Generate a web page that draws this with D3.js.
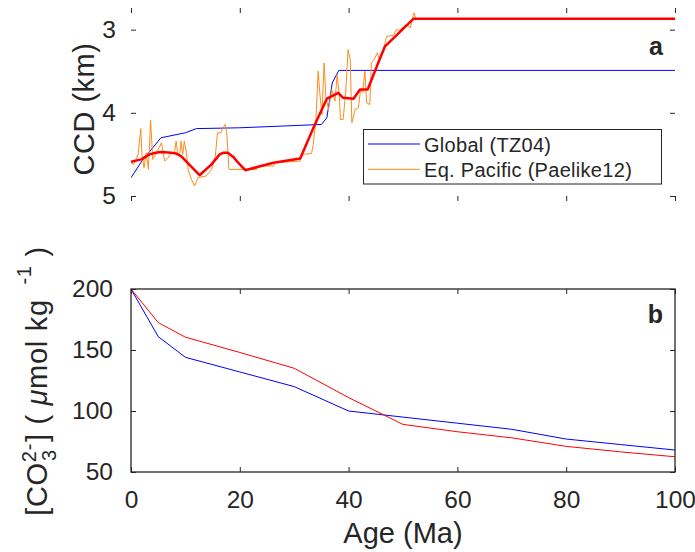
<!DOCTYPE html>
<html>
<head>
<meta charset="utf-8">
<script src="https://cdn.jsdelivr.net/npm/d3@7"></script>
<style>
  body { margin: 0; background: #fff; }
  text { font-family: "Liberation Sans", Arial, sans-serif; fill: #262626; }
</style>
</head>
<body>
<div id="chart"></div>
<script>
// panel a : CCD (km)
var globalAge = [0, 2, 5.5, 10, 12, 20, 35, 36, 37, 38.2, 100];
var globalCCD = [4.78, 4.58, 4.30, 4.24, 4.19, 4.18, 4.14, 4.06, 3.64, 3.49, 3.49];

var pacAge = [0, 0.5, 1.3, 1.8, 2.0, 2.4, 2.8, 3.2, 3.6, 4.0, 4.7, 5.6, 5.9, 6.2, 6.8, 7.4, 8.0, 8.3, 8.6, 9.0,
  9.2, 9.5, 9.8, 10.2, 10.5, 11.1, 11.7, 12.3, 13.8, 14.8, 15.5, 15.9, 16.5, 16.9, 17.3, 17.6, 18.0, 23.1, 23.4, 26.2,
  26.5, 31.1, 31.4, 33.2, 33.5, 34.0, 34.4, 34.7, 35.1, 35.5, 35.8, 36.3, 36.9, 37.5, 37.9, 38.3, 38.5, 39.0, 39.5, 39.9,
  40.3, 40.6, 40.9, 41.2, 41.8, 42.2, 42.6, 43.0, 43.3, 43.9, 44.2, 44.7, 45.3, 45.7, 46.4, 47.0, 48.2, 48.8, 49.4, 50.1,
  50.7, 51.3, 51.8, 52.0, 52.3, 100];
var pacCCD = [4.60, 4.62, 4.50, 4.19, 4.50, 4.66, 4.48, 4.68, 4.09, 4.56, 4.48, 4.36, 4.48, 4.58, 4.54, 4.48, 4.48, 4.34, 4.50, 4.48,
  4.34, 4.50, 4.34, 4.48, 4.68, 4.80, 4.88, 4.78, 4.76, 4.68, 4.52, 4.24, 4.24, 4.18, 4.14, 4.24, 4.68, 4.68, 4.64, 4.64,
  4.60, 4.58, 4.50, 4.49, 4.38, 4.08, 3.50, 3.76, 4.02, 3.40, 3.80, 3.96, 3.72, 3.86, 3.54, 3.80, 4.08, 4.08, 3.72, 3.24,
  3.36, 4.12, 4.04, 3.96, 3.94, 3.72, 3.76, 3.50, 3.88, 3.90, 3.40, 3.36, 3.28, 3.36, 3.24, 3.08, 3.07, 3.00, 3.01, 2.96,
  2.94, 2.98, 2.87, 2.76, 2.87, 2.87];

var pacSmoothAge = [0, 1.9, 3.4, 4.5, 5.6, 7.4, 8.3, 9.2, 12.6, 14.8, 16.3, 17.0, 17.8, 18.8, 19.7, 21, 26.2, 31.1, 33.8, 36,
  38.1, 39, 40.9, 42.1, 43.5, 45.8, 46.7, 51.9, 100];
var pacSmoothCCD = [4.59, 4.56, 4.50, 4.48, 4.47, 4.48, 4.49, 4.52, 4.75, 4.62, 4.50, 4.48, 4.48, 4.53, 4.60, 4.69, 4.60, 4.55, 4.14, 3.83,
  3.76, 3.82, 3.83, 3.72, 3.72, 3.34, 3.20, 2.87, 2.87];

// panel b : [CO3 2-]
var co3Age = [0, 5, 10, 20, 30, 40, 50, 60, 70, 80, 90, 100];
var co3Global = [200, 161, 144, 132, 120, 100, 95, 90, 85, 77, 72.5, 68];
var co3Pacific = [200, 172.5, 160.5, 148, 135, 111, 89, 83, 78, 71, 66.5, 62.5];

var ageTicks = [0, 20, 40, 60, 80, 100];
var ccdTicks = [3, 4, 5];
var co3Ticks = [50, 100, 150, 200];

var width = 695, height = 552;
var left = 131, right = 675;
var tickFont = 24.5, labelFont = 29;

var svg = d3.select("#chart").append("svg")
  .attr("width", width)
  .attr("height", height);

var x = d3.scaleLinear().domain([0, 100]).range([left, right]);
var yTop = d3.scaleLinear().domain([2.8, 5]).range([13, 196]);
var yBot = d3.scaleLinear().domain([50, 200]).range([472, 289]);

var toPoints = function(xs, ys) {
  return xs.map(function(d, i) { return [d, ys[i]]; });
};

// draws box, inner ticks on all four sides
var drawFrame = function(y, yTicks, pad, showX) {
  var r = y.range();
  var g = svg.append("g");

  g.append("g")
    .attr("transform", "translate(" + left + ",0)")
    .call(d3.axisLeft(y).tickValues(yTicks).tickSizeInner(-5).tickSizeOuter(0).tickPadding(pad).tickFormat(d3.format("d")))
    .call(function(a) { a.select(".domain").remove(); })
    .selectAll("text").attr("font-size", tickFont).attr("fill", "#262626");

  g.append("g")
    .attr("transform", "translate(" + right + ",0)")
    .call(d3.axisRight(y).tickValues(yTicks).tickSizeInner(-5).tickSizeOuter(0).tickFormat(""))
    .call(function(a) { a.select(".domain").remove(); });

  g.append("g")
    .attr("transform", "translate(0," + r[1] + ")")
    .call(d3.axisTop(x).tickValues(ageTicks).tickSizeInner(-5).tickSizeOuter(0).tickFormat(""))
    .call(function(a) { a.select(".domain").remove(); });

  var bx = g.append("g")
    .attr("transform", "translate(0," + r[0] + ")")
    .call(d3.axisBottom(x).tickValues(ageTicks).tickSizeInner(-5).tickSizeOuter(0).tickPadding(19)
      .tickFormat(showX ? d3.format("d") : ""))
    .call(function(a) { a.select(".domain").remove(); });
  bx.selectAll("text").attr("font-size", tickFont).attr("fill", "#262626");

  g.selectAll(".tick line").attr("stroke", "#262626");

  g.append("rect")
    .attr("x", left)
    .attr("y", r[1])
    .attr("width", right - left)
    .attr("height", r[0] - r[1])
    .attr("fill", "none")
    .attr("stroke", "#262626")
    .attr("stroke-width", 1.3);
};

// ---- panel a ----
svg.append("clipPath").attr("id", "clipA")
  .append("rect")
  .attr("x", left).attr("y", 13)
  .attr("width", right - left).attr("height", 183);

var lineA = d3.line()
  .x(function(d) { return x(d[0]); })
  .y(function(d) { return yTop(d[1]); });

var plotA = svg.append("g").attr("clip-path", "url(#clipA)");

plotA.append("path")
  .datum(toPoints(globalAge, globalCCD))
  .attr("d", lineA)
  .attr("fill", "none")
  .attr("stroke", "#0000ff")
  .attr("stroke-width", 1);

plotA.append("path")
  .datum(toPoints(pacAge, pacCCD))
  .attr("d", lineA)
  .attr("fill", "none")
  .attr("stroke", "#ff8c1a")
  .attr("stroke-width", 1);

plotA.append("path")
  .datum(toPoints(pacSmoothAge, pacSmoothCCD))
  .attr("d", lineA)
  .attr("fill", "none")
  .attr("stroke", "#ff0000")
  .attr("stroke-width", 2.5)
  .attr("stroke-linejoin", "round");

drawFrame(yTop, ccdTicks, 15, false);

svg.append("text")
  .text("CCD (km)")
  .attr("transform", "translate(94,109) rotate(-90)")
  .attr("text-anchor", "middle")
  .attr("font-size", labelFont)
  .attr("letter-spacing", 0.5);

svg.append("text")
  .text("a")
  .attr("x", 663)
  .attr("y", 55)
  .attr("text-anchor", "end")
  .attr("font-size", 25)
  .attr("font-weight", "bold")
  .attr("fill", "#000");

// legend
var legend = svg.append("g");
legend.append("rect")
  .attr("x", 363.5).attr("y", 129.5)
  .attr("width", 298).attr("height", 54.5)
  .attr("fill", "#fff")
  .attr("stroke", "#262626")
  .attr("stroke-width", 1);

var legendItems = [
  { label: "Global (TZ04)", color: "#0000ff" },
  { label: "Eq. Pacific (Paelike12)", color: "#ff8c1a" }
];

legend.selectAll(".item")
  .data(legendItems)
  .enter()
  .append("line")
  .attr("x1", 368).attr("x2", 420)
  .attr("y1", function(d, i) { return 144 + i * 25.3; })
  .attr("y2", function(d, i) { return 144 + i * 25.3; })
  .attr("stroke", function(d) { return d.color; })
  .attr("stroke-width", 1);

legend.selectAll(".lbl")
  .data(legendItems)
  .enter()
  .append("text")
  .text(function(d) { return d.label; })
  .attr("x", 424)
  .attr("y", function(d, i) { return 151.5 + i * 25.3; })
  .attr("font-size", 20)
  .attr("letter-spacing", 0.3)
  .attr("fill", "#000");

// ---- panel b ----
var lineB = d3.line()
  .x(function(d) { return x(d[0]); })
  .y(function(d) { return yBot(d[1]); });

svg.append("path")
  .datum(toPoints(co3Age, co3Global))
  .attr("d", lineB)
  .attr("fill", "none")
  .attr("stroke", "#0000ff")
  .attr("stroke-width", 1);

svg.append("path")
  .datum(toPoints(co3Age, co3Pacific))
  .attr("d", lineB)
  .attr("fill", "none")
  .attr("stroke", "#ff0000")
  .attr("stroke-width", 1);

drawFrame(yBot, co3Ticks, 18, true);

svg.append("text")
  .text("b")
  .attr("x", 663)
  .attr("y", 323)
  .attr("text-anchor", "end")
  .attr("font-size", 25)
  .attr("font-weight", "bold")
  .attr("fill", "#000");

svg.append("text")
  .text("Age (Ma)")
  .attr("x", (left + right) / 2)
  .attr("y", 543)
  .attr("text-anchor", "middle")
  .attr("font-size", labelFont);

var ylab = svg.append("text")
  .attr("transform", "translate(47,381) rotate(-90)")
  .attr("text-anchor", "middle")
  .attr("font-size", labelFont)
  .attr("letter-spacing", 0.7);
ylab.append("tspan").text("[CO");
ylab.append("tspan").text("2-").attr("font-size", 20).attr("dy", -11);
ylab.append("tspan").text("3").attr("font-size", 20).attr("dx", -18).attr("dy", 20);
ylab.append("tspan").text("] ( ").attr("dx", 7).attr("dy", -9);
ylab.append("tspan").text("\u03bc").attr("font-style", "italic");
ylab.append("tspan").text("mol kg ");
ylab.append("tspan").text("-1").attr("font-size", 20).attr("dx", 6).attr("dy", -16);
ylab.append("tspan").text(" )").attr("dy", 16);
</script>
</body>
</html>
